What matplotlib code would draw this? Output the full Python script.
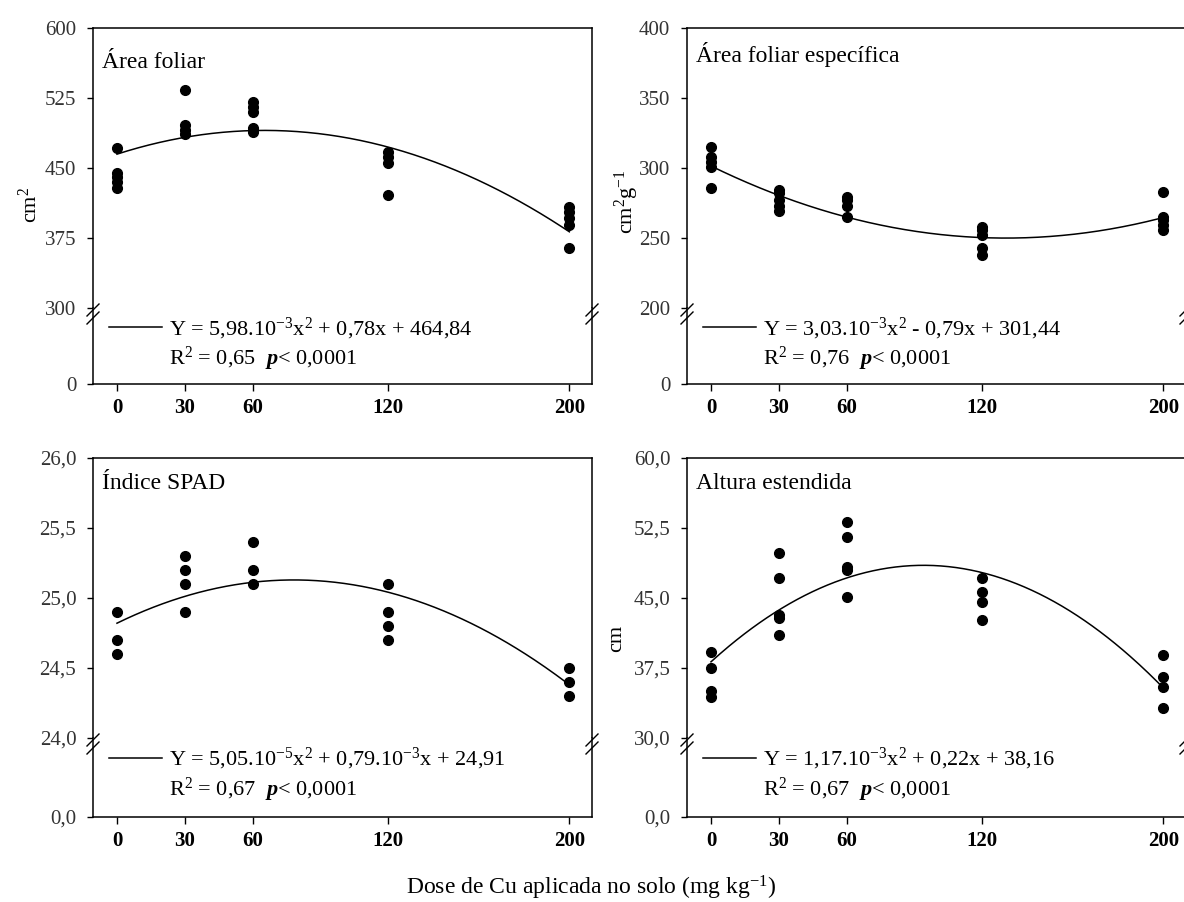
import matplotlib.pyplot as plt
import numpy as np
from matplotlib.lines import Line2D

# fonts: Times-like serif for everything, mathtext too
plt.rcParams['font.family'] = 'Liberation Serif'
plt.rcParams['mathtext.fontset'] = 'custom'
plt.rcParams['mathtext.rm'] = 'Liberation Serif'
plt.rcParams['mathtext.it'] = 'Liberation Serif:italic'
plt.rcParams['mathtext.bf'] = 'Liberation Serif:bold'
if 'mathtext.bfit' in plt.rcParams:
    plt.rcParams['mathtext.bfit'] = 'Liberation Serif:italic:bold'
    P = r'$\mathbfit{p}$'
else:
    P = r'$\mathit{p}$'

# data
doses = [0, 30, 60, 120, 200]

area_foliar = [[471, 445, 440, 435, 429], [534, 496, 491, 486],
               [521, 515, 510, 493, 489], [467, 462, 455, 421],
               [408, 403, 396, 389, 364]]
area_especifica = [[315, 308, 304, 301, 286], [284, 282, 277, 273, 269],
                   [279, 277, 273, 265], [258, 256, 252, 243, 238],
                   [283, 265, 263, 259, 256]]
spad = [[24.9, 24.7, 24.6], [25.3, 25.2, 25.1, 24.9], [25.4, 25.2, 25.1],
        [25.1, 24.9, 24.8, 24.7], [24.5, 24.4, 24.3]]
altura = [[39.2, 37.5, 35.0, 34.4], [49.8, 47.1, 43.2, 42.9, 41.0],
          [53.1, 51.5, 48.3, 48.0, 45.1], [47.1, 45.6, 44.6, 42.6],
          [38.9, 36.5, 35.5, 33.2]]

# fitted quadratics (a, b, c) as drawn
coef_af = [-5.98e-3, 0.78, 464.84]
coef_afe = [3.03e-3, -0.79, 301.44]
coef_spad = [-5.05e-5, 7.9e-3, 24.82]
coef_alt = [-1.17e-3, 0.22, 38.16]

yt_af = [300, 375, 450, 525, 600]
yt_afe = [200, 250, 300, 350, 400]
yt_spad = [24.0, 24.5, 25.0, 25.5, 26.0]
yt_alt = [30.0, 37.5, 45.0, 52.5, 60.0]
ytl_af = ['300', '375', '450', '525', '600']
ytl_afe = ['200', '250', '300', '350', '400']
ytl_spad = ['24,0', '24,5', '25,0', '25,5', '26,0']
ytl_alt = ['30,0', '37,5', '45,0', '52,5', '60,0']

titles = ['Área foliar', 'Área foliar específica', 'Índice SPAD', 'Altura estendida']
equations = [r'Y = 5,98.10$^{-3}$x$^{2}$ + 0,78x + 464,84',
             r'Y = 3,03.10$^{-3}$x$^{2}$ - 0,79x + 301,44',
             r'Y = 5,05.10$^{-5}$x$^{2}$ + 0,79.10$^{-3}$x + 24,91',
             r'Y = 1,17.10$^{-3}$x$^{2}$ + 0,22x + 38,16']
r2_vals = ['0,65', '0,76', '0,67', '0,67']

W, H = 1184, 902
PW = 499
XLIM = (-10.6, 210)

fig = plt.figure(figsize=(W / 100, H / 100), dpi=100)


def fx(p):
    return p / W


def fy(p):
    return 1 - p / H


def break_mark(xp, yp):
    for off in (-4, 4):
        fig.add_artist(Line2D([fx(xp - 6), fx(xp + 6)],
                              [fy(yp + off + 6), fy(yp + off - 6)],
                              color='black', lw=1.0, transform=fig.transFigure))


def draw_panel(left, top, brk, bottom, groups, coef, yticks, ylabels, zero_label,
               title, title_off, eq, r2):
    ax = fig.add_axes([fx(left), fy(brk), PW / W, (brk - top) / H])
    axb = fig.add_axes([fx(left), fy(bottom), PW / W, (bottom - brk) / H])

    for d, vals in zip(doses, groups):
        ax.plot([d] * len(vals), vals, 'o', color='black', ms=7, clip_on=False)
    xs = np.linspace(0, 200, 300)
    curve, = ax.plot(xs, np.polyval(coef, xs), color='black', lw=1.1)

    for a in (ax, axb):
        a.set_xlim(XLIM)
        for s in a.spines.values():
            s.set_linewidth(1.1)
        a.tick_params(axis='y', direction='out', length=4, width=1, pad=8,
                      labelsize=15, labelcolor='#333333')
    ax.set_ylim(yticks[0], yticks[-1])
    ax.set_yticks(yticks, ylabels)
    ax.tick_params(axis='x', bottom=False, labelbottom=False)
    ax.spines['bottom'].set_visible(False)

    axb.spines['top'].set_visible(False)
    axb.set_ylim(0, 1)
    axb.set_yticks([0], [zero_label])
    axb.set_xticks(doses, [str(d) for d in doses], fontweight='bold')
    axb.tick_params(axis='x', direction='out', length=5, width=1, pad=5,
                    labelsize=15)

    ax.text(0.018, 1 - title_off / (brk - top), title, transform=ax.transAxes,
            va='center', ha='left', fontsize=17)

    blank = Line2D([], [], linestyle='none')
    axb.legend([curve, blank], [eq, r'R$^{2}$ = ' + r2 + '  ' + P + '< 0,0001'],
               loc='upper left', bbox_to_anchor=(0.032, 0.9), frameon=False,
               fontsize=16, handlelength=2.4, handletextpad=0.3,
               labelspacing=0.15, borderpad=0, borderaxespad=0)

    break_mark(left, brk + 6)
    break_mark(left + PW, brk + 6)


draw_panel(93, 28, 308, 384, area_foliar, coef_af, yt_af, ytl_af, '0',
           titles[0], 34, equations[0], r2_vals[0])
draw_panel(687, 28, 308, 384, area_especifica, coef_afe, yt_afe, ytl_afe, '0',
           titles[1], 26, equations[1], r2_vals[1])
draw_panel(93, 458, 738, 817, spad, coef_spad, yt_spad, ytl_spad, '0,0',
           titles[2], 25, equations[2], r2_vals[2])
draw_panel(687, 458, 738, 817, altura, coef_alt, yt_alt, ytl_alt, '0,0',
           titles[3], 25, equations[3], r2_vals[3])

fig.text(fx(30), fy(205), r'cm$^{2}$', rotation=90, ha='center', va='center', fontsize=16)
fig.text(fx(627), fy(202), r'cm$^{2}$g$^{-1}$', rotation=90, ha='center', va='center', fontsize=16)
fig.text(fx(617), fy(638), 'cm', rotation=90, ha='center', va='center', fontsize=16)
fig.text(fx(591), fy(888), r'Dose de Cu aplicada no solo (mg kg$^{-1}$)',
         ha='center', va='center', fontsize=17)

fig.savefig('out.png', dpi=100)
